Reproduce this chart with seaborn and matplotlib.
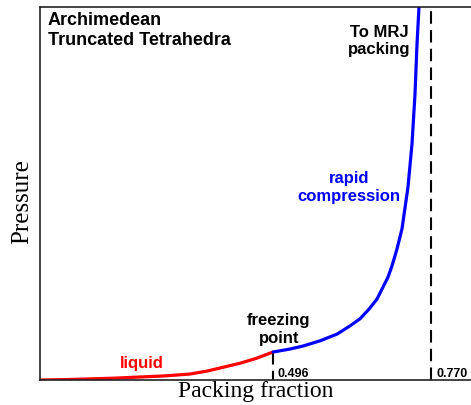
import numpy as np
import pandas as pd
import matplotlib
matplotlib.use("Agg")
import matplotlib.pyplot as plt
import seaborn as sns

# Data (arbitrary pressure units, 0..1 axis)
liquid_phi = [0.092, 0.135, 0.179, 0.222, 0.265, 0.309, 0.352, 0.382, 0.439, 0.467, 0.496]
liquid_p = [0.000, 0.001, 0.003, 0.005, 0.008, 0.011, 0.016, 0.024, 0.045, 0.058, 0.075]

rapid_phi = [0.496, 0.5255, 0.548, 0.5775, 0.607, 0.6295, 0.6469, 0.6625, 0.6764,
             0.6868, 0.6955, 0.7024, 0.711, 0.7197, 0.7301, 0.7371, 0.7423, 0.7457, 0.7492, 0.7505]
rapid_p = [0.075, 0.083, 0.091, 0.105, 0.123, 0.145, 0.164, 0.190, 0.217,
           0.249, 0.276, 0.306, 0.351, 0.405, 0.517, 0.633, 0.767, 0.898, 1.0, 1.03]

freezing_phi = 0.496
freezing_p = 0.075
mrj_phi = 0.770
tick_labels = ["0.496", "0.770"]

sns.set_theme(style="white")
plt.rcParams['font.family'] = ['Liberation Sans', 'DejaVu Sans']

df = pd.concat([
    pd.DataFrame({"phi": liquid_phi, "P": liquid_p, "phase": "liquid"}),
    pd.DataFrame({"phi": rapid_phi, "P": rapid_p, "phase": "rapid"}),
])

fig = plt.figure(figsize=(4.71, 4.06), dpi=100)
ax = fig.add_axes([40/471, 25/406, 431/471, 373/406])

sns.lineplot(data=df, x="phi", y="P", hue="phase",
             palette={"liquid": "#ff0000", "rapid": "#0000ff"},
             sort=False, estimator=None, linewidth=2.3, legend=False, ax=ax)
for ln in ax.get_lines():
    ln.set_solid_joinstyle("round")

ax.plot([freezing_phi, freezing_phi], [freezing_p, 0], color="black",
        lw=1.5, linestyle=(0, (6, 3)), zorder=1)
ax.axvline(mrj_phi, color="black", lw=1.5, linestyle=(0, (6, 3)), zorder=1)

ax.set_xlim(0.092, 0.8394)
ax.set_ylim(0, 1)
ax.set_xticks([])
ax.set_yticks([])
for s in ["left", "bottom", "top"]:
    ax.spines[s].set_visible(True)
    ax.spines[s].set_color("#222222")
    ax.spines[s].set_linewidth(1.2)
ax.spines["right"].set_visible(False)

ax.set_xlabel("Packing fraction", family=["Liberation Serif"], fontsize=17,
              labelpad=0, color="black")
ax.set_ylabel("Pressure", family=["Liberation Serif"], fontsize=18,
              color="black")
ax.yaxis.set_label_coords(-0.016, 0.48)

ax.text(0.0186, 0.988, "Archimedean\nTruncated Tetrahedra", transform=ax.transAxes,
        ha="left", va="top", fontsize=13, fontweight="bold", color="black")
ax.text(0.7865, 0.955, "To MRJ\npacking", transform=ax.transAxes,
        ha="center", va="top", fontsize=12, fontweight="bold", color="black",
        multialignment="center")
ax.text(0.717, 0.562, "rapid\ncompression", transform=ax.transAxes,
        ha="center", va="top", fontsize=12, fontweight="bold", color="#0000ff",
        multialignment="center")
ax.text(0.5545, 0.182, "freezing\npoint", transform=ax.transAxes,
        ha="center", va="top", fontsize=12, fontweight="bold", color="black",
        multialignment="center")
ax.text(0.2367, 0.035, "liquid", transform=ax.transAxes,
        ha="center", va="baseline", fontsize=12, fontweight="bold", color="#ff0000")
ax.text(0.552, 0.011, tick_labels[0], transform=ax.transAxes,
        ha="left", va="baseline", fontsize=9, fontweight="bold", color="black")
ax.text(0.9188, 0.011, tick_labels[1], transform=ax.transAxes,
        ha="left", va="baseline", fontsize=9, fontweight="bold", color="black")

fig.savefig("out.png", dpi=100)
